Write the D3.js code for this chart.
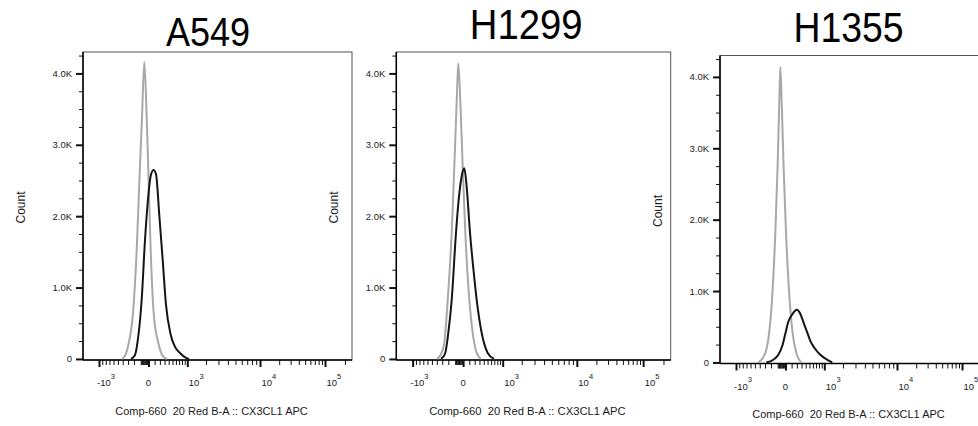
<!DOCTYPE html>
<html>
<head>
<meta charset="utf-8">
<script src="https://cdn.jsdelivr.net/npm/d3@7"></script>
<style>
  body { margin: 0; background: #fff; }
  svg { display: block; font-family: "Liberation Sans", Arial, sans-serif; }
</style>
</head>
<body>
<svg id="chart" width="978" height="426"></svg>
<script>
// ---- values ----
var panelNames = ['A549', 'H1299', 'H1355'];

var yTickValues = [0, 1000, 2000, 3000, 4000];
var yTickLabels = ['0', '1.0K', '2.0K', '3.0K', '4.0K'];
var yMinorValues = [250, 500, 750, 1250, 1500, 1750, 2250, 2500, 2750, 3250, 3500, 3750, 4250];

var xMajorValues = [-1000, 0, 1000, 10000, 100000];
var xMajorLabels = [['-10', '3'], ['0', ''], ['10', '3'], ['10', '4'], ['10', '5']];
var xMinorValues = [-900, -800, -700, -600, -500, -400, -300, -200, -100,
  -90, -80, -70, -60, -50, -40, -30, -20, -10,
  100, 200, 300, 400, 500, 600, 700, 800, 900,
  2000, 3000, 4000, 5000, 6000, 7000, 8000, 9000,
  20000, 30000, 40000, 50000, 60000, 70000, 80000, 90000, 200000];

var xAxisTitle = 'Comp-660  20 Red B-A :: CX3CL1 APC';
var yAxisTitle = 'Count';

// [fluorescence, count]
var a549Control = [[-414, 0], [-347, 56], [-295, 196], [-221, 592], [-158, 1527], [-120, 2465],
  [-82, 3394], [-52, 4164], [-22, 3394], [3, 2465], [34, 1527], [89, 592], [169, 224], [272, 32], [358, 0]];
var a549Sample = [[-249, 0], [-184, 56], [-134, 322], [-87, 826], [-43, 1667], [-12, 2157], [34, 2563],
  [81, 2647], [125, 2591], [188, 2017], [259, 1387], [334, 756], [447, 350], [573, 168], [731, 84], [948, 14], [1073, 0]];

var h1299Control = [[-397, 0], [-331, 56], [-270, 196], [-209, 826], [-149, 1765], [-112, 2689],
  [-79, 3628], [-59, 4142], [-34, 3628], [-5, 2689], [34, 1765], [100, 826], [161, 364], [240, 84], [335, 0]];
var h1299Sample = [[-322, 0], [-253, 70], [-200, 364], [-149, 826], [-89, 1765], [-54, 2227], [-17, 2563],
  [18, 2671], [53, 2437], [112, 1765], [176, 1247], [240, 826], [351, 364], [504, 84], [690, 0]];

var h1355Control = [[-429, 0], [-350, 52], [-269, 206], [-184, 877], [-134, 1814], [-102, 2737],
  [-78, 3674], [-65, 4140], [-48, 3674], [-23, 2737], [8, 1814], [66, 877], [118, 415], [188, 136], [295, 0]];
var h1355Sample = [[-278, 0], [-164, 38], [-92, 108], [-39, 234], [-2, 401], [44, 569], [107, 667],
  [202, 737], [272, 681], [341, 569], [433, 429], [523, 303], [643, 206], [846, 108], [1117, 38], [1370, 0]];

var controls = [a549Control, h1299Control, h1355Control];
var samples = [a549Sample, h1299Sample, h1355Sample];

// ---- layout ----
var frameH = 308;
// where -10^3, 0, 10^3, 10^4, 10^5 sit, px from the frame's left edge
var xBreakPx = [16, 65.5, 104.3, 177, 242];
var layout = [
  {left: 83, top: 52, width: 269, kx: 1, tx: 208, ty: 45.7, ts: 40.5},
  {left: 396.3, top: 52, width: 274.4, kx: 1.02, tx: 526.2, ty: 39, ts: 43},
  {left: 720, top: 55.5, width: 269, kx: 1, tx: 848.5, ty: 41.7, ts: 42}
];

var svg = d3.select('#chart');

panelNames.forEach(function(name, i) {
  var
    L = layout[i],
    bottom = L.top + frameH,
    x = d3.scaleSymlog().constant(600)
      .domain(xMajorValues)
      .range(xBreakPx.map(p => L.left + p * L.kx)),
    y = d3.scaleLinear().domain([-15, 4300]).range([bottom, L.top]),
    g = svg.append('g').attr('class', 'panel');

  // title
  g.append('text')
    .attr('transform', `translate(${L.tx},${L.ty}) scale(0.89,1)`)
    .attr('text-anchor', 'middle')
    .attr('font-size', L.ts)
    .attr('fill', '#000')
    .text(name);

  // frame
  g.append('rect')
    .attr('x', L.left).attr('y', L.top)
    .attr('width', L.width).attr('height', frameH)
    .attr('fill', 'none').attr('stroke', '#555').attr('stroke-width', 1);

  // y axis
  var yMinor = g.append('g')
    .attr('transform', `translate(${L.left},0)`)
    .call(d3.axisLeft(y).tickValues(yMinorValues).tickSize(4).tickFormat(''));
  var yMajor = g.append('g')
    .attr('transform', `translate(${L.left},0)`)
    .call(d3.axisLeft(y).tickValues(yTickValues).tickSize(7).tickPadding(4)
      .tickFormat((d, j) => yTickLabels[j]));
  [yMinor, yMajor].forEach(a => a.select('.domain').remove());
  yMinor.selectAll('line').attr('stroke', '#111');
  yMajor.selectAll('line').attr('stroke', '#111').attr('stroke-width', 2);
  yMajor.selectAll('text')
    .attr('font-size', 9.5)
    .attr('font-family', '"Liberation Sans", Arial, sans-serif')
    .attr('fill', '#1a1a1a');

  // x axis
  var xMinor = g.append('g')
    .attr('transform', `translate(0,${bottom})`)
    .call(d3.axisBottom(x).tickValues(xMinorValues).tickSize(5).tickFormat(''));
  var xMajor = g.append('g')
    .attr('transform', `translate(0,${bottom})`)
    .call(d3.axisBottom(x).tickValues(xMajorValues).tickSize(7).tickFormat(''));
  [xMinor, xMajor].forEach(a => a.select('.domain').remove());
  xMinor.selectAll('line').attr('stroke', '#111');
  xMajor.selectAll('line').attr('stroke', '#111').attr('stroke-width', 2);

  // axis lines
  g.append('line')
    .attr('x1', L.left).attr('x2', L.left)
    .attr('y1', L.top).attr('y2', bottom)
    .attr('stroke', '#000').attr('stroke-width', 1.5);
  g.append('line')
    .attr('x1', L.left).attr('x2', L.left + L.width)
    .attr('y1', bottom).attr('y2', bottom)
    .attr('stroke', '#000').attr('stroke-width', 1.5);

  // x tick labels with superscript exponents
  xMajorValues.forEach(function(v, j) {
    var
      lab = xMajorLabels[j],
      px = x(v),
      t = g.append('text')
        .attr('y', bottom + 26)
        .attr('font-size', 9.5)
        .attr('fill', '#1a1a1a');
    if (lab[1] === '') {
      t.attr('x', px).attr('text-anchor', 'middle').text(lab[0]);
    } else {
      t.attr('x', px + (v < 0 ? -2 : 1.5)).attr('text-anchor', 'start');
      t.append('tspan').text(lab[0]);
      t.append('tspan').attr('dy', -7.5).attr('font-size', 7.5).text(lab[1]);
    }
  });

  // axis titles
  g.append('text')
    .attr('x', L.left + 128.5 * L.kx)
    .attr('y', bottom + 54.5)
    .attr('text-anchor', 'middle')
    .attr('font-size', 11 * L.kx)
    .attr('fill', '#1a1a1a')
    .style('white-space', 'pre')
    .text(xAxisTitle);

  g.append('text')
    .attr('transform', `translate(${L.left - 58.5},${L.top + 155.5}) rotate(-90)`)
    .attr('text-anchor', 'middle')
    .attr('font-size', 12)
    .attr('fill', '#1a1a1a')
    .text(yAxisTitle);

  // histograms
  var line = d3.line()
    .x(d => x(d[0]))
    .y(d => y(d[1]))
    .curve(d3.curveMonotoneX);

  g.append('path')
    .attr('d', line(controls[i]))
    .attr('fill', 'none')
    .attr('stroke', '#a8a8a8')
    .attr('stroke-width', 2);

  g.append('path')
    .attr('d', line(samples[i]))
    .attr('fill', 'none')
    .attr('stroke', '#151515')
    .attr('stroke-width', 2);
});
</script>
</body>
</html>
